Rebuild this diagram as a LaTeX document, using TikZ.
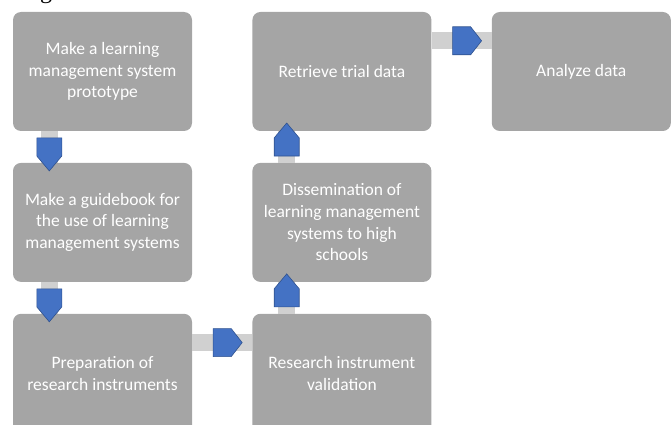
\documentclass[tikz,border=0pt]{standalone}
\usepackage{fontspec}
\setmainfont{Carlito}
\newfontfamily\capfont{Liberation Serif}
\usetikzlibrary{positioning,shapes.arrows}

\definecolor{boxgray}{HTML}{A5A5A5}
\definecolor{bargray}{HTML}{D0D0D0}
\definecolor{chevblue}{HTML}{4472C4}
\definecolor{chevedge}{HTML}{2F528F}

\tikzset{
  stage/.style={rectangle, rounded corners=8pt, fill=boxgray, text=white,
    minimum width=179pt, minimum height=119pt, inner sep=4pt, align=center,
    font=\fontsize{17.5}{21.7}\selectfont},
  bar/.style={bargray, line width=17pt},
  chev/.style={single arrow, single arrow head extend=0pt, inner sep=0pt,
    fill=chevblue, draw=chevedge, line width=0.6pt},
  vchev/.style={chev, minimum height=33pt, minimum width=25pt, single arrow tip angle=80},
  hchev/.style={chev, minimum height=29pt, minimum width=28pt, single arrow tip angle=104},
}

\begin{document}
\begin{tikzpicture}[node distance=31.5pt and 60pt]
\clip (0,0) rectangle (672pt,-425pt);
\useasboundingbox (0,0) rectangle (672pt,-425pt);
\node[font=\capfont\fontsize{24}{24}\selectfont, anchor=base west, inner sep=0pt] (cap) at (40pt,1pt) {g};

\node[stage] (b1) at (102.5pt,-71.5pt) {Make a learning\\management system\\prototype};
\node[stage, below=of b1] (b2) {Make a guidebook for\\the use of learning\\management systems};
\node[stage, below=of b2] (b3) {Preparation of\\research instruments};
\node[stage, right=of b3] (b4) {Research instrument\\validation};
\node[stage, above=of b4] (b5) {Dissemination of\\learning management\\systems to high\\schools};
\node[stage, above=of b5] (b6) {Retrieve trial data};
\node[stage, right=of b6] (b7) {Analyze data};

% downward steps, left column
\draw[bar] ([xshift=36.5pt]b1.south west) -- ([xshift=36.5pt]b2.north west)
  node[vchev, midway, rotate=-90] (a12) {};
\draw[bar] ([xshift=36.5pt]b2.south west) -- ([xshift=36.5pt]b3.north west)
  node[vchev, midway, rotate=-90] (a23) {};
% across the bottom
\draw[bar] ([yshift=-29pt]b3.north east) -- ([yshift=-29pt]b4.north west)
  node[hchev, midway] (a34) {};
% upward steps, middle column
\draw[bar] ([xshift=34.5pt]b4.north west) -- ([xshift=34.5pt]b5.south west)
  node[vchev, midway, rotate=90] (a45) {};
\draw[bar] ([xshift=34.5pt]b5.north west) -- ([xshift=34.5pt]b6.south west)
  node[vchev, midway, rotate=90] (a56) {};
% across the top
\draw[bar] ([yshift=-29pt]b6.north east) -- ([yshift=-29pt]b7.north west)
  node[hchev, midway] (a67) {};
\end{tikzpicture}
\end{document}
